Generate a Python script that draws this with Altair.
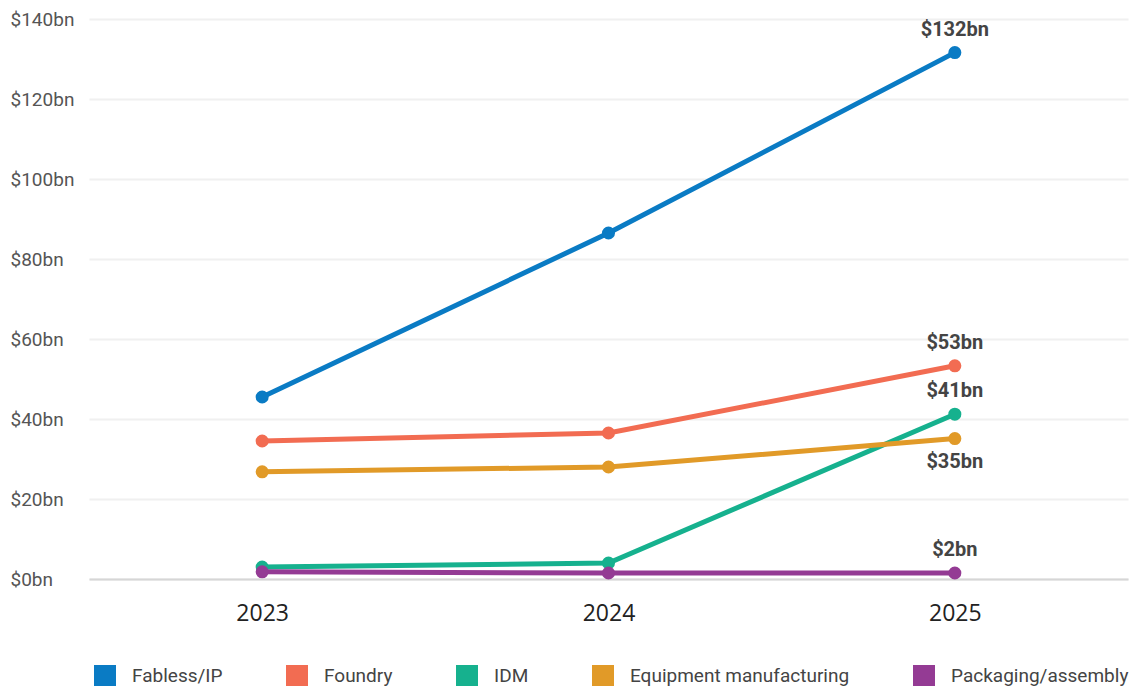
import altair as alt
import pandas as pd

years = ["2023", "2024", "2025"]
series = ["Fabless/IP", "Foundry", "IDM", "Equipment manufacturing", "Packaging/assembly"]
colors = ["#0a7bc4", "#f26c52", "#16b18e", "#e19a28", "#943b94"]
fabless = [45.5, 86.5, 131.6]
foundry = [34.5, 36.5, 53.3]
idm = [3.0, 4.0, 41.2]
equipment = [26.8, 28.0, 35.1]
packaging = [1.8, 1.5, 1.5]
y_ticks = [0, 20, 40, 60, 80, 100, 120, 140]

rows = []
for name, vals in zip(series, [fabless, foundry, idm, equipment, packaging]):
    for yr, v in zip(years, vals):
        rows.append({"year": yr, "series": name, "value": v, "order": series.index(name),
                     "label": f"${round(v)}bn" if yr == years[-1] else ""})
df = pd.DataFrame(rows)

cond = "Roboto, sans-serif"

x = alt.X("year:N", title=None, sort=years,
          scale=alt.Scale(type="point", padding=0.5),
          axis=alt.Axis(labelAngle=0, labelFont="Open Sans", labelFontSize=23, labelColor="#222",
                        labelPadding=23, ticks=False, domain=True, domainColor="#d6d6d6",
                        domainWidth=2, grid=False))
y = alt.Y("value:Q", title=None,
          scale=alt.Scale(domain=[0, 140], nice=False),
          axis=alt.Axis(values=y_ticks, labelExpr="'$' + datum.value + 'bn'",
                        labelFont=cond, labelFontSize=19, labelColor="#555",
                        labelAlign="left", labelPadding=79, ticks=False, domain=False,
                        grid=True, gridColor="#f0f0f0", gridWidth=2))
color = alt.Color("series:N", title=None, sort=series,
                  scale=alt.Scale(domain=series, range=colors),
                  legend=alt.Legend(orient="none", legendX=5, legendY=646,
                                    direction="horizontal", symbolType="square",
                                    symbolSize=484, symbolStrokeWidth=0, symbolOpacity=1,
                                    labelFont=cond, labelFontSize=19, labelColor="#444",
                                    labelOffset=16, columnPadding=63,
                                    labelLimit=400))

base = alt.Chart(df)
lines = base.mark_line(strokeWidth=5).encode(x=x, y=y, color=color, order="order:Q")
points = base.mark_circle(size=170, opacity=1).encode(x=x, y=y, color=color)

lab = base.transform_filter(alt.datum.label != "")
above = lab.transform_filter(alt.datum.series != "Equipment manufacturing").mark_text(
    font=cond, fontSize=20, fontWeight="bold", color="#444", baseline="bottom", dy=-13
).encode(x=x, y=y, text="label:N")
below = lab.transform_filter(alt.datum.series == "Equipment manufacturing").mark_text(
    font=cond, fontSize=20, fontWeight="bold", color="#444", baseline="top", dy=13
).encode(x=x, y=y, text="label:N")

chart = alt.layer(lines, points, above, below).properties(
    width=1039, height=560,
    autosize=alt.AutoSizeParams(type="none"),
    padding={"left": 81, "top": 11, "right": 1, "bottom": 107},
).configure(background="white").configure_view(stroke=None)

chart.save("out.html", embed_options={"renderer": "svg", "actions": False})
